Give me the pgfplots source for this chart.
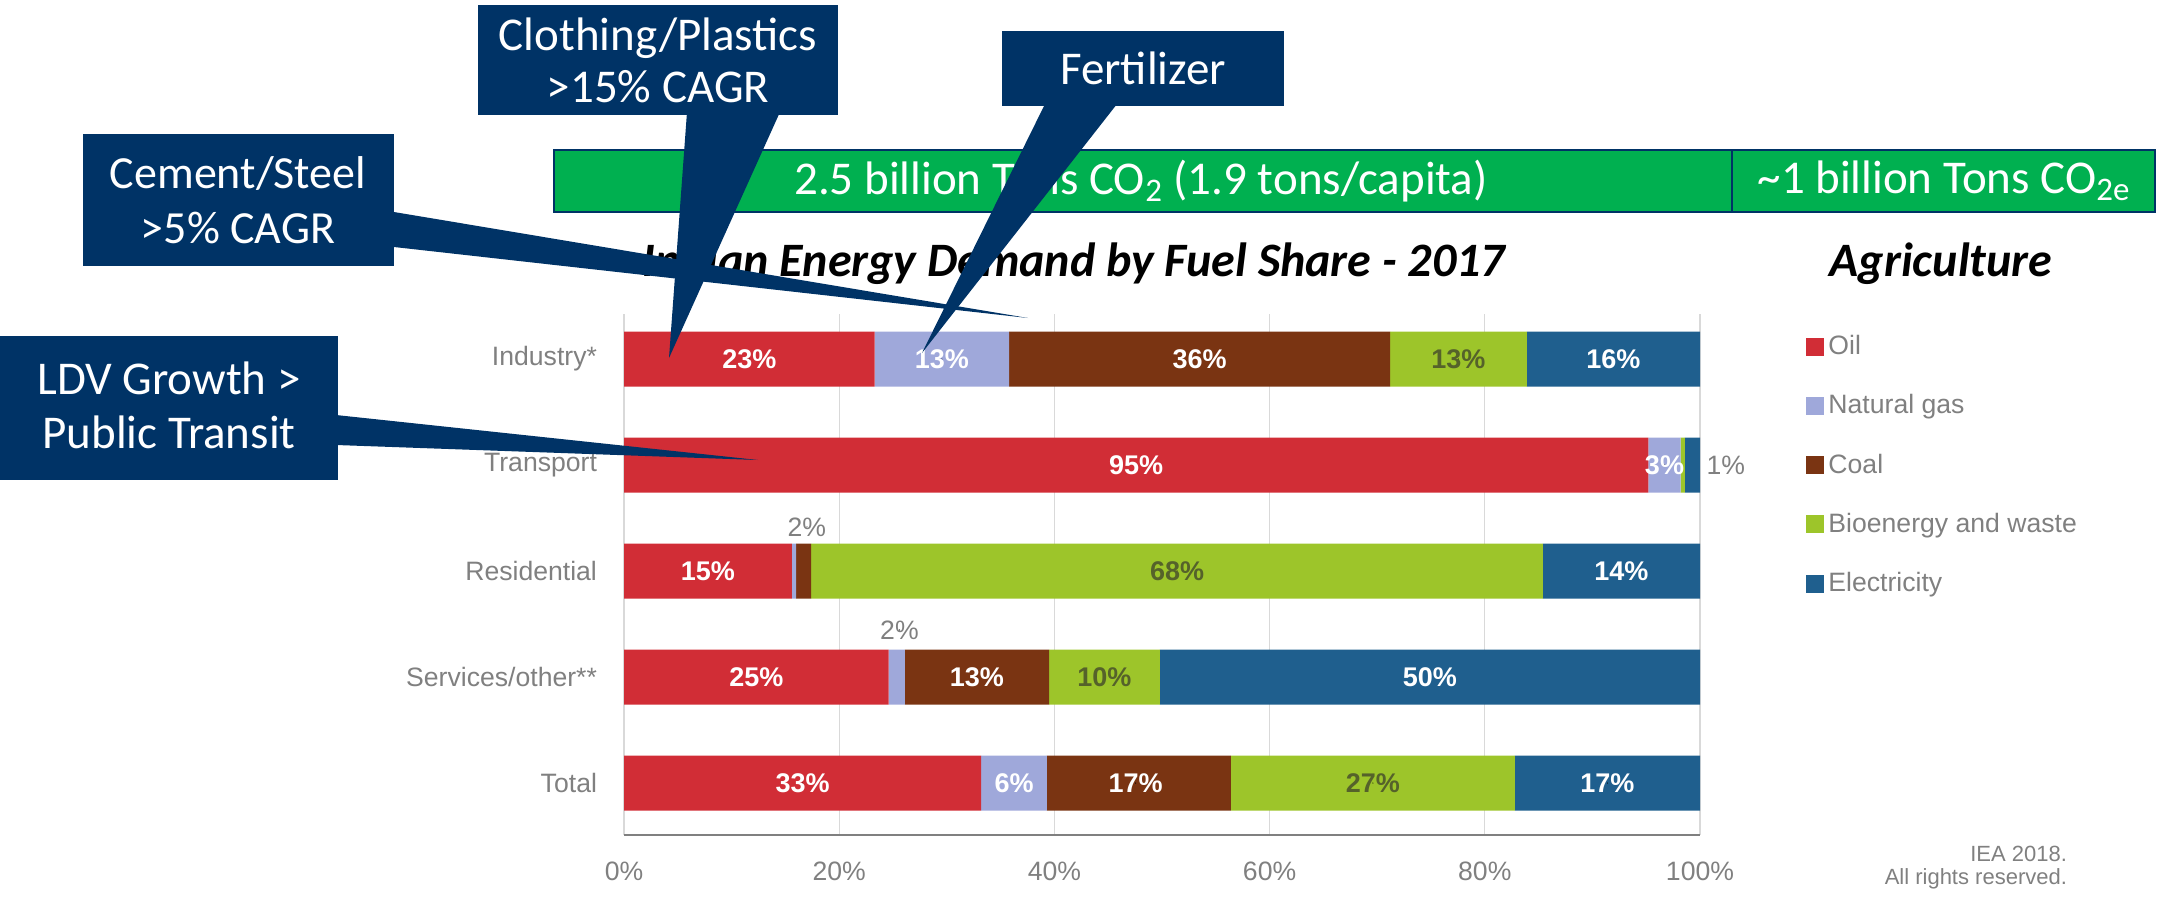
\documentclass[border=0pt]{standalone}
\usepackage{fontspec}
\setmainfont{Liberation Sans}
\newfontfamily\carlito{Carlito}
\usepackage{pgfplots}
\pgfplotsset{compat=1.18}
\definecolor{oilc}{HTML}{D12D36}
\definecolor{gasc}{HTML}{9FA8DA}
\definecolor{coalc}{HTML}{7A3412}
\definecolor{bioc}{HTML}{9DC52A}
\definecolor{elecc}{HTML}{1F5F8E}
\definecolor{navybox}{HTML}{003366}
\definecolor{bannergreen}{HTML}{00B050}
\definecolor{labgray}{HTML}{808080}
\definecolor{biotext}{HTML}{55622A}

% shared geometry of the bar axis and of the label overlay
\pgfplotsset{frame/.style={
  at={(312pt,-417.5pt)}, anchor=south west,
  scale only axis, width=538pt, height=260.5pt,
  xmin=0, xmax=100, ymin=-0.49, ymax=4.425}}

\begin{document}
\begin{tikzpicture}
% overlay coordinates: 1 unit = 1 px of the 2165x922 reference
\begin{scope}[x=0.5pt,y=-0.5pt]
\path[use as bounding box] (0,0) rectangle (2165,922);
% green emissions banner
\fill[bannergreen] (554,150) rectangle (2155,212);
\draw[navybox, line width=1.2pt] (554,150) rectangle (2155,212) (1732,150) -- (1732,212);
\node[text=white, font=\carlito\fontsize{23.5}{26}\selectfont] at (1141,181)
  {2.5 billion Tons CO\textsubscript{2} (1.9 tons/capita)};
\node[text=white, font=\carlito\fontsize{23.5}{26}\selectfont] at (1944,181)
  {\textasciitilde1 billion Tons CO\textsubscript{2e}};
% titles
\node[font=\carlito\bfseries\itshape\fontsize{24}{27}\selectfont] at (1074,264)
  {Indian Energy Demand by Fuel Share - 2017};
\node[font=\carlito\bfseries\itshape\fontsize{24}{27}\selectfont] at (1941,264)
  {Agriculture};
\end{scope}

\begin{axis}[
  frame,
  xbar stacked, bar width=27.5pt,
  xtick={0,20,...,100},
  xticklabels={0\%,20\%,40\%,60\%,80\%,100\%},
  ytick={0,1,2,3,4},
  yticklabels={Total,Services/other**,Residential,Transport,Industry*},
  major tick length=0pt,
  tick label style={font=\fontsize{13.3}{15}\selectfont, text=labgray},
  xticklabel shift=10pt, yticklabel shift=10pt,
  xmajorgrids, major grid style={draw=gray!30, line width=0.6pt},
  axis x line*=bottom, axis y line*=left,
  x axis line style={draw=labgray, line width=1pt, -},
  y axis line style={draw=none},
  clip=false,
  legend style={at={(1.093,0.975)}, anchor=north west, draw=none, fill=none,
    font=\fontsize{13.3}{15}\selectfont, text=labgray, row sep=14.5pt},
  legend cell align=left,
]
\addplot[fill=oilc, draw=none,
  legend image code/.code={\fill[oilc] (0pt,-4.5pt) rectangle (9pt,4.5pt);}]
  coordinates {(23.3,4) (95.2,3) (15.6,2) (24.6,1) (33.2,0)};
\addplot[fill=gasc, draw=none,
  legend image code/.code={\fill[gasc] (0pt,-4.5pt) rectangle (9pt,4.5pt);}]
  coordinates {(12.5,4) (3.0,3) (0.4,2) (1.5,1) (6.1,0)};
\addplot[fill=coalc, draw=none,
  legend image code/.code={\fill[coalc] (0pt,-4.5pt) rectangle (9pt,4.5pt);}]
  coordinates {(35.4,4) (0,3) (1.4,2) (13.4,1) (17.1,0)};
\addplot[fill=bioc, draw=none,
  legend image code/.code={\fill[bioc] (0pt,-4.5pt) rectangle (9pt,4.5pt);}]
  coordinates {(12.7,4) (0.4,3) (68.0,2) (10.3,1) (26.4,0)};
\addplot[fill=elecc, draw=none,
  legend image code/.code={\fill[elecc] (0pt,-4.5pt) rectangle (9pt,4.5pt);}]
  coordinates {(16.1,4) (1.4,3) (14.6,2) (50.2,1) (17.2,0)};
\legend{Oil,Natural gas,Coal,Bioenergy and waste,Electricity}
\end{axis}

% share labels, at the middle of each segment
\begin{axis}[
  frame, hide axis, clip=false,
  point meta=explicit symbolic,
  nodes near coords={\pgfplotspointmeta},
  nodes near coords align={center},
  every node near coord/.append style={anchor=center},
]
\addplot[only marks, mark=*, mark size=0.01pt, mark options={draw=none, fill=none},
  nodes near coords style={text=white, font=\bfseries\fontsize{13.5}{15}\selectfont}]
  coordinates {
  (11.65,4)[23\%] (29.55,4)[13\%] (53.5,4)[36\%] (91.95,4)[16\%]
  (47.6,3)[95\%] (96.7,3)[3\%]
  (7.8,2)[15\%] (92.7,2)[14\%]
  (12.3,1)[25\%] (32.8,1)[13\%] (74.9,1)[50\%]
  (16.6,0)[33\%] (36.25,0)[6\%] (47.55,0)[17\%] (91.4,0)[17\%]};
\addplot[only marks, mark=*, mark size=0.01pt, mark options={draw=none, fill=none},
  nodes near coords style={text=biotext, font=\bfseries\fontsize{13.5}{15}\selectfont}]
  coordinates {(77.55,4)[13\%] (51.4,2)[68\%] (44.65,1)[10\%] (69.6,0)[27\%]};
\addplot[only marks, mark=*, mark size=0.01pt, mark options={draw=none, fill=none},
  nodes near coords style={text=labgray, font=\fontsize{13.3}{15}\selectfont}]
  coordinates {(102.4,3)[1\%] (17.0,2.416)[2\%] (25.6,1.444)[2\%]};
\end{axis}

\begin{scope}[x=0.5pt,y=-0.5pt]
\node[anchor=east, align=right, text=labgray, font=\fontsize{11}{11.5}\selectfont]
  at (2074,868) {IEA 2018.\\All rights reserved.};
% callouts
\fill[navybox] (394,212) -- (1028,318) -- (394,247) -- cycle;
\fill[navybox] (83,134) rectangle (394,266);
\node[text=white, align=center, font=\carlito\fontsize{23}{27.5}\selectfont]
  at (238,200) {Cement/Steel\\>5\% CAGR};
\fill[navybox] (687,112) -- (669,358) -- (780,112) -- cycle;
\fill[navybox] (478,5) rectangle (838,115);
\node[text=white, align=center, font=\carlito\fontsize{23.5}{26}\selectfont]
  at (658,60) {Clothing/Plastics\\>15\% CAGR};
\fill[navybox] (1045,104) -- (922,353) -- (1117,104) -- cycle;
\fill[navybox] (1002,31) rectangle (1284,106);
\node[text=white, font=\carlito\fontsize{23.5}{26}\selectfont] at (1143,68) {Fertilizer};
\fill[navybox] (336,415) -- (758,460) -- (336,445) -- cycle;
\fill[navybox] (0,336) rectangle (338,480);
\node[text=white, align=center, font=\carlito\fontsize{23.5}{27}\selectfont]
  at (169,405) {LDV Growth >\\Public Transit};
\end{scope}
\end{tikzpicture}
\end{document}
